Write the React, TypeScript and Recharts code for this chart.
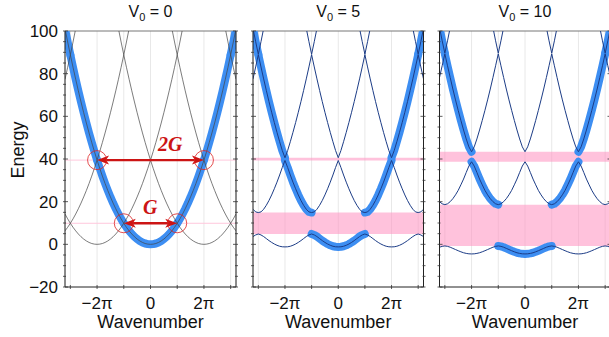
import React from 'react';
import { ComposedChart, Line, XAxis, YAxis, CartesianGrid, ReferenceArea, ReferenceLine, ReferenceDot } from 'recharts';

const PI = Math.PI;
const FONT = '"Liberation Sans", Arial, Helvetica, sans-serif';

// band energies tabulated at reduced wavenumber q = 0, 0.1π ... π (bands are even and 2π-periodic)
const reducedK = [0, 0.1, 0.2, 0.3, 0.4, 0.5, 0.6, 0.7, 0.8, 0.9, 1];

// V0 = 0 (free electron)
const free1 = [0, 0.1, 0.39, 0.89, 1.58, 2.47, 3.55, 4.84, 6.32, 7.99, 9.87];
const free2 = [39.48, 35.63, 31.98, 28.52, 25.27, 22.21, 19.34, 16.68, 14.21, 11.94, 9.87];
const free3 = [39.48, 43.52, 47.77, 52.21, 56.85, 61.69, 66.72, 71.95, 77.38, 83.0, 88.83];
const free4 = [157.9, 150.1, 142.5, 135.1, 127.9, 120.9, 114.1, 107.5, 101.1, 94.85, 88.83];

// V0 = 5
const v5band1 = [-1.2, -1.15, -0.9, -0.45, 0.15, 0.9, 1.75, 2.7, 3.65, 4.4, 4.85];
const v5band2 = [39.3, 36.05, 32.5, 29.15, 26.05, 23.15, 20.55, 18.3, 16.45, 15.2, 14.9];
const v5band3 = [40.6, 43.95, 48.1, 52.5, 57.1, 61.9, 66.9, 72.15, 77.55, 83.15, 88.9];
const v5band4 = [158.2, 150.3, 142.7, 135.3, 128.1, 121.1, 114.3, 107.6, 101.2, 95.0, 89.1];
const v5gaps = [[4.85, 14.9], [39.3, 40.6]];

// V0 = 10
const v10band1 = [-4.5, -4.45, -4.25, -3.95, -3.5, -3.0, -2.45, -1.9, -1.35, -0.95, -0.75];
const v10band2 = [38.7, 36.7, 33.7, 30.6, 27.9, 25.3, 23.2, 21.4, 20.0, 19.0, 18.6];
const v10band3 = [43.4, 45.7, 49.4, 53.6, 58.1, 62.8, 67.7, 72.8, 78.2, 83.7, 89.3];
const v10band4 = [158.4, 150.6, 143.0, 135.6, 128.4, 121.4, 114.6, 108.0, 101.6, 95.4, 89.6];
const v10gaps = [[-0.75, 18.6], [38.7, 43.4]];

const kTicks = [-3, -2, -1, 0, 1, 2, 3]; // units of π
const kLabels: Record<string, string> = { '-2': '−2π', '0': '0', '2': '2π' };
const energyTicks = [-20, -15, -10, -5, 0, 5, 10, 15, 20, 25, 30, 35, 40, 45, 50, 55, 60, 65, 70, 75, 80, 85, 90, 95, 100];
const energyLabels = [-20, 0, 20, 40, 60, 80, 100];

const KMAX = 3.2; // units of π
const BLUE = '#3d8ef2';
const PINK = '#ff8fc0';

// expand the tabulated reduced-zone values over the plotted k range
const buildRows = (bands: number[][]) => {
  const n = reducedK.length - 1; // 10 steps per π
  const rows: any[] = [];
  const jmax = Math.round(KMAX * n);
  for (let j = -jmax; j <= jmax; j++) {
    const r = ((j % (2 * n)) + 2 * n) % (2 * n);
    const idx = r <= n ? r : 2 * n - r;
    const row: any = { k: (j / n) * PI };
    bands.forEach((b, i) => {
      row[`b${i + 1}`] = b[idx];
      const a = Math.abs(j);
      row[`e${i + 1}`] = a >= i * n && a <= (i + 1) * n ? b[idx] : null;
    });
    rows.push(row);
  }
  return rows;
};

const YTick = (props: any) => {
  const { x, y, payload, side, showLabel } = props;
  const v = payload.value;
  const major = v % 20 === 0;
  const len = major ? 5 : 3;
  const dir = side === 'left' ? 1 : -1;
  return (
    <g>
      <line x1={x} y1={y} x2={x + dir * len} y2={y} stroke="#333" strokeWidth={0.8} />
      {showLabel && energyLabels.includes(v) && (
        <text x={x - 5} y={y} dy={6} textAnchor="end" fontSize={17} fontFamily={FONT} fill="#111">
          {v < 0 ? `−${-v}` : v}
        </text>
      )}
    </g>
  );
};

const XTick = (props: any) => {
  const { x, y, payload } = props;
  const m = Math.round(payload.value / PI);
  const label = kLabels[String(m)];
  return (
    <g>
      <line x1={x} y1={y} x2={x} y2={y - 4} stroke="#333" strokeWidth={0.8} />
      {label && (
        <text x={x} y={y + 20} textAnchor="middle" fontSize={17} fontFamily={FONT} fill="#111">
          {label}
        </text>
      )}
    </g>
  );
};

const Arrow = (props: any) => {
  const { x1, y1, x2 } = props;
  const l = Math.min(x1, x2);
  const r = Math.max(x1, x2);
  const c = '#cc1414';
  return (
    <g>
      <line x1={l + 8} y1={y1} x2={r - 8} y2={y1} stroke={c} strokeWidth={2.4} />
      <path d={`M${l},${y1} L${l + 12},${y1 - 4.5} L${l + 9},${y1} L${l + 12},${y1 + 4.5} Z`} fill={c} />
      <path d={`M${r},${y1} L${r - 12},${y1 - 4.5} L${r - 9},${y1} L${r - 12},${y1 + 4.5} Z`} fill={c} />
    </g>
  );
};

type PanelProps = {
  bands: number[][];
  gaps: number[][];
  width: number;
  left: number;
  marginLeft: number;
  marginRight: number;
  axisWidth: number;
  thin: string;
  thinWidth: number;
  labels?: boolean;
  free?: boolean;
};

const Panel = ({ bands, gaps, width, left, marginLeft, marginRight, axisWidth, thin, thinWidth, labels, free }: PanelProps) => {
  const data = buildRows(bands);
  return (
    <div style={{ position: 'absolute', left, top: 0 }}>
      <ComposedChart width={width} height={337} data={data} margin={{ top: 31, bottom: 20, left: marginLeft, right: marginRight }}>
        <CartesianGrid horizontal={false} stroke="#e8e8e8" strokeWidth={1} />
        {gaps.map((g, i) => (
          <ReferenceArea key={`gap-${i}`} y1={g[0]} y2={g[1]} fill={PINK} fillOpacity={0.55} stroke="none" />
        ))}
        {free && <ReferenceLine y={free1[10]} stroke="#ffc8dc" strokeWidth={1} />}
        {free && <ReferenceLine y={free2[0]} stroke="#ffc8dc" strokeWidth={1} />}
        <XAxis
          type="number"
          dataKey="k"
          domain={[-KMAX * PI, KMAX * PI]}
          allowDataOverflow
          ticks={kTicks.map((m) => m * PI)}
          interval={0}
          height={30}
          tickSize={0}
          tickLine={false}
          axisLine={{ stroke: '#222', strokeWidth: 1 }}
          tick={(p: any) => <XTick {...p} />}
        />
        <YAxis
          type="number"
          domain={[-20, 100]}
          allowDataOverflow
          ticks={energyTicks}
          interval={0}
          width={axisWidth}
          tickSize={0}
          tickLine={false}
          axisLine={{ stroke: '#222', strokeWidth: 1 }}
          tick={(p: any) => <YTick {...p} side="left" showLabel={labels} />}
        />
        <YAxis
          yAxisId="right"
          orientation="right"
          type="number"
          domain={[-20, 100]}
          allowDataOverflow
          ticks={energyTicks}
          interval={0}
          width={1}
          tickSize={0}
          tickLine={false}
          axisLine={{ stroke: '#222', strokeWidth: 1 }}
          tick={(p: any) => <YTick {...p} side="right" />}
        />
        <ReferenceLine y={100} stroke="#777" strokeWidth={1} />
        {bands.map((_, i) => (
          <Line key={`e${i}`} dataKey={`e${i + 1}`} type="linear" stroke={BLUE} strokeWidth={8} strokeLinecap="round" strokeLinejoin="round" dot={false} connectNulls={false} isAnimationActive={false} />
        ))}
        {bands.map((_, i) => (
          <Line key={`b${i}`} dataKey={`b${i + 1}`} type="linear" stroke={thin} strokeWidth={thinWidth} dot={false} isAnimationActive={false} />
        ))}
        {free && (
          <ReferenceLine segment={[{ x: -2 * PI, y: free2[0] }, { x: 2 * PI, y: free2[0] }]} shape={(p: any) => <Arrow {...p} />} />
        )}
        {free && (
          <ReferenceLine segment={[{ x: -PI, y: free1[10] }, { x: PI, y: free1[10] }]} shape={(p: any) => <Arrow {...p} />} />
        )}
        {free &&
          [
            [-2 * PI, free2[0]],
            [2 * PI, free2[0]],
            [-PI, free1[10]],
            [PI, free1[10]],
          ].map((pt, i) => (
            <ReferenceDot key={`c${i}`} x={pt[0]} y={pt[1]} r={9.5} fill="none" stroke="#dd2222" strokeWidth={0.8} />
          ))}
      </ComposedChart>
    </div>
  );
};

const Title = ({ cx, v }: { cx: number; v: string }) => (
  <div style={{ position: 'absolute', left: cx - 60, width: 120, top: 3, lineHeight: '18px', textAlign: 'center', fontFamily: FONT, fontSize: 16, color: '#111' }}>
    V<span style={{ fontSize: 11, position: 'relative', top: 4 }}>0</span> = {v}
  </div>
);

const XLabel = ({ cx }: { cx: number }) => (
  <div style={{ position: 'absolute', left: cx - 70, width: 140, top: 313, lineHeight: '19px', textAlign: 'center', fontFamily: FONT, fontSize: 18, color: '#111' }}>
    Wavenumber
  </div>
);

export default function App() {
  return (
    <div style={{ position: 'absolute', left: 0, top: 0, width: 609, height: 337, overflow: 'hidden', background: '#fff' }}>
      <Panel bands={[free1, free2, free3, free4]} gaps={[]} width={245} left={0} marginLeft={5} marginRight={8} axisWidth={60} thin="#444" thinWidth={0.7} labels free />
      <Panel bands={[v5band1, v5band2, v5band3, v5band4]} gaps={v5gaps} width={186} left={245} marginLeft={7} marginRight={6.5} axisWidth={1} thin="#1c3c86" thinWidth={1} />
      <Panel bands={[v10band1, v10band2, v10band3, v10band4]} gaps={v10gaps} width={182} left={431} marginLeft={7.5} marginRight={1.5} axisWidth={1} thin="#1c3c86" thinWidth={1} />
      <Title cx={150.5} v="0" />
      <Title cx={338.2} v="5" />
      <Title cx={525} v="10" />
      <XLabel cx={150.5} />
      <XLabel cx={338.2} />
      <XLabel cx={525} />
      <div style={{ position: 'absolute', left: 18 - 40, top: 150 - 10, width: 80, lineHeight: '20px', textAlign: 'center', transform: 'rotate(-90deg)', fontFamily: FONT, fontSize: 18, color: '#111' }}>
        Energy
      </div>
      <div style={{ position: 'absolute', left: 158, top: 133, lineHeight: '22px', fontFamily: '"Liberation Serif", "Times New Roman", serif', fontStyle: 'italic', fontWeight: 'bold', fontSize: 20, color: '#cc1414' }}>
        2G
      </div>
      <div style={{ position: 'absolute', left: 143, top: 196, lineHeight: '22px', fontFamily: '"Liberation Serif", "Times New Roman", serif', fontStyle: 'italic', fontWeight: 'bold', fontSize: 20, color: '#cc1414' }}>
        G
      </div>
    </div>
  );
}
